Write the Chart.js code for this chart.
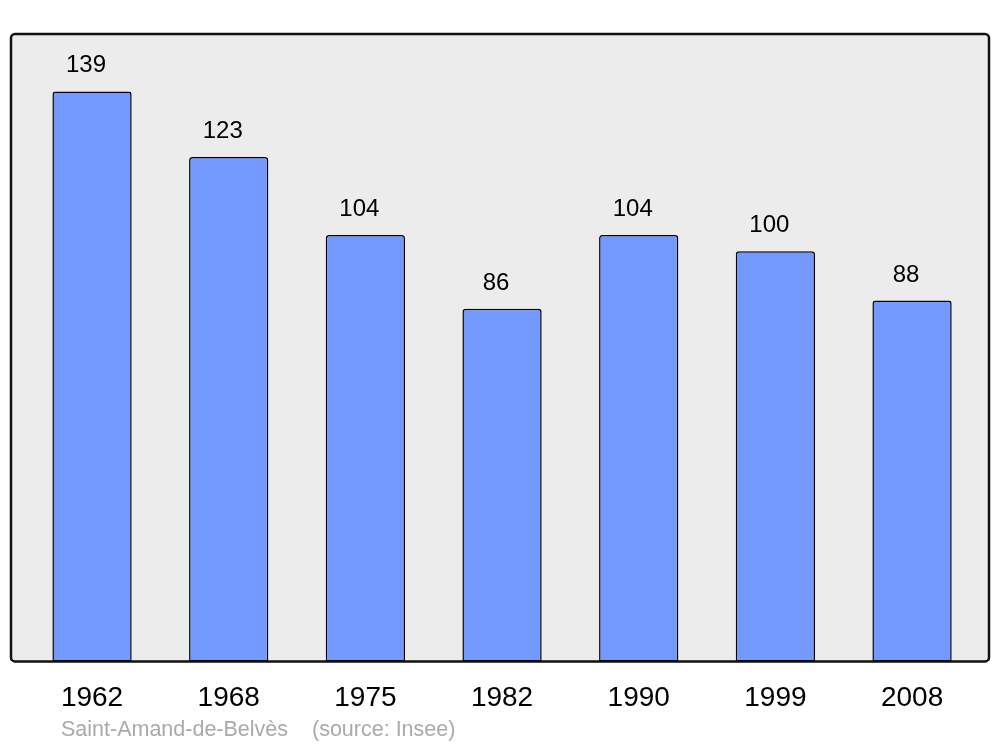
<!DOCTYPE html>
<html>
<head>
<meta charset="utf-8">
<script src="https://cdn.jsdelivr.net/npm/chart.js@4/dist/chart.umd.min.js"></script>
<style>
html,body{margin:0;padding:0;background:#fff;}
#wrap{width:1000px;height:747px;position:relative;}
</style>
</head>
<body>
<div id="wrap"><canvas id="c" width="1000" height="747"></canvas></div>
<script>
const years = ['1962', '1968', '1975', '1982', '1990', '1999', '2008'];
const population = [139, 123, 104, 86, 104, 100, 88];
const commune = 'Saint-Amand-de-Belvès';
const source = '(source: Insee)';

const points = population.map((v, i) => ({x: i, y: v}));

const framePlugin = {
  id: 'frame',
  beforeDraw(chart) {
    const {ctx, chartArea: a} = chart;
    ctx.save();
    ctx.beginPath();
    ctx.roundRect(a.left, a.top, a.right - a.left, a.bottom - a.top, 4);
    ctx.fillStyle = '#ececec';
    ctx.fill();
    ctx.restore();
  },
  afterDatasetsDraw(chart) {
    const {ctx, chartArea: a} = chart;
    ctx.save();
    ctx.beginPath();
    ctx.roundRect(a.left, a.top, a.right - a.left, a.bottom - a.top, 4);
    ctx.lineWidth = 2.5;
    ctx.strokeStyle = '#111';
    ctx.stroke();
    // value labels
    const meta = chart.getDatasetMeta(0);
    ctx.fillStyle = '#000';
    ctx.font = '24px "Liberation Sans", Arial, sans-serif';
    ctx.textAlign = 'center';
    ctx.textBaseline = 'alphabetic';
    meta.data.forEach((bar, i) => {
      ctx.fillText(String(population[i]), bar.x - 6, bar.y - 19);
    });
    // footer
    ctx.fillStyle = '#aaaaaa';
    ctx.font = '21.5px "Liberation Sans", Arial, sans-serif';
    ctx.textAlign = 'left';
    ctx.textBaseline = 'middle';
    ctx.fillText(commune, 61, 730);
    ctx.fillText(source, 312, 730);
    ctx.restore();
  }
};

new Chart(document.getElementById('c'), {
  type: 'bar',
  data: {
    datasets: [{
      data: points,
      backgroundColor: '#7399ff',
      borderColor: '#000',
      borderWidth: 1.5,
      borderRadius: {topLeft: 3, topRight: 3, bottomLeft: 0, bottomRight: 0},
      borderSkipped: false,
      barPercentage: 0.58,
      categoryPercentage: 1
    }]
  },
  options: {
    responsive: false,
    animation: false,
    events: [],
    layout: {padding: {left: 11, right: 11, top: 34, bottom: 12}},
    plugins: {legend: {display: false}, tooltip: {enabled: false}},
    scales: {
      x: {
        type: 'linear',
        min: -0.593,
        max: 6.563,
        offset: false,
        bounds: 'data',
        grid: {display: false, drawTicks: false, offset: false},
        border: {display: false},
        afterBuildTicks(scale) {
          scale.ticks = years.map((_, i) => ({value: i}));
        },
        ticks: {
          padding: 20,
          color: '#000',
          font: {size: 28, family: '"Liberation Sans", Arial, sans-serif'},
          maxRotation: 0,
          autoSkip: false,
          callback: (v) => years[v] !== undefined ? years[v] : ''
        }
      },
      y: {
        display: false,
        min: 0,
        max: 153
      }
    }
  },
  plugins: [framePlugin]
});
</script>
</body>
</html>
